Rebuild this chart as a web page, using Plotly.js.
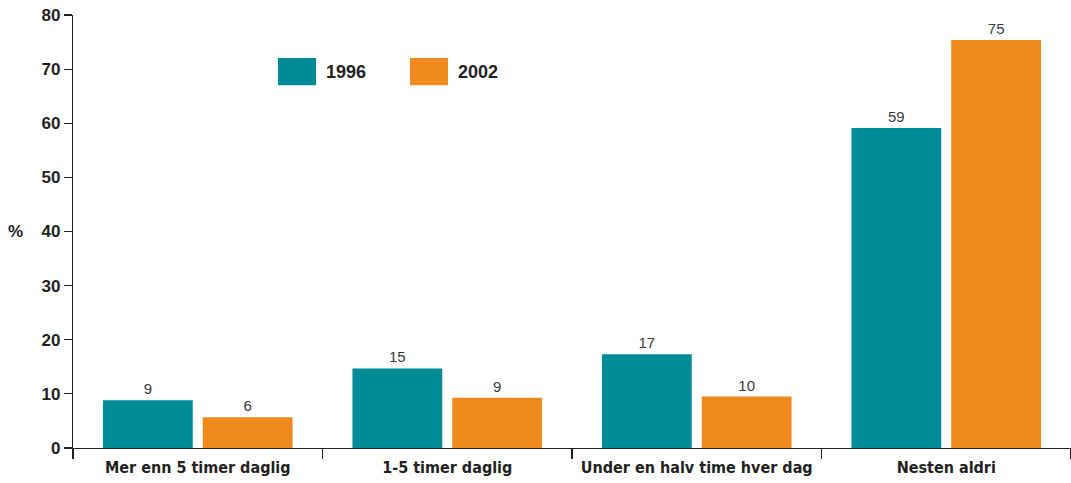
<!DOCTYPE html>
<html>
<head>
<meta charset="utf-8">
<script src="https://cdn.plot.ly/plotly-3.0.1.min.js"></script>
<style>html,body{margin:0;padding:0;background:#fff;}#chart{width:1071px;height:483px;}</style>
</head>
<body>
<div id="chart"></div>
<script>
const categories = ["Mer enn 5 timer daglig", "1-5 timer daglig", "Under en halv time hver dag", "Nesten aldri"];
const seriesNames = ["1996", "2002"];
const values1996 = [8.8, 14.7, 17.3, 59.1];
const values2002 = [5.7, 9.3, 9.5, 75.4];
const labels1996 = ["9", "15", "17", "59"];
const labels2002 = ["6", "9", "10", "75"];
const yTicks = [0, 10, 20, 30, 40, 50, 60, 70, 80];
const colors = ["#008B96", "#F08A1F"];

const labelFont = {family: "Liberation Sans, Arial, sans-serif", size: 15, color: "#3a3a3a"};

const traces = [
  {type: "bar", name: seriesNames[0], x: categories, y: values1996, text: labels1996,
   textposition: "outside", textfont: labelFont, cliponaxis: false,
   marker: {color: colors[0]}, hoverinfo: "x+y"},
  {type: "bar", name: seriesNames[1], x: categories, y: values2002, text: labels2002,
   textposition: "outside", textfont: labelFont, cliponaxis: false,
   marker: {color: colors[1]}, hoverinfo: "x+y"}
];

const legendX = [[0.2054, 0.2435], [0.3377, 0.3758]];
const shapes = seriesNames.map((n, i) => ({
  type: "rect", xref: "paper", yref: "paper",
  x0: legendX[i][0], x1: legendX[i][1], y0: 0.838, y1: 0.9007,
  fillcolor: colors[i], line: {width: 0}
}));
const annotations = seriesNames.map((n, i) => ({
  xref: "paper", yref: "paper", x: legendX[i][1] + 0.008, y: 0.8695,
  xanchor: "left", yanchor: "middle", text: n, showarrow: false,
  font: {family: "Liberation Sans, Arial, sans-serif", size: 18, color: "#231f20", weight: "bold"}
}));
annotations.push({
  xref: "paper", yref: "y", x: -0.058, y: 40, xanchor: "center", yanchor: "middle",
  text: "<b>%</b>", showarrow: false,
  font: {family: "Liberation Sans, Arial, sans-serif", size: 17, color: "#231f20"}
});

const layout = {
  width: 1071, height: 483,
  margin: {l: 73, r: 0, t: 15, b: 35, pad: 0},
  paper_bgcolor: "#ffffff", plot_bgcolor: "#ffffff",
  showlegend: false,
  barmode: "group", bargap: 0.2, bargroupgap: 0.1,
  xaxis: {
    type: "category", showgrid: false, zeroline: false,
    showline: true, linecolor: "#231f20", linewidth: 1.2,
    ticks: "outside", tickson: "boundaries", ticklen: 10, tickcolor: "#231f20", tickwidth: 1.2,
    tickangle: 0, ticklabelstandoff: 5,
    tickfont: {family: "DejaVu Sans Condensed, Liberation Sans Narrow, sans-serif", size: 16, color: "#231f20", weight: "bold"},
    fixedrange: true
  },
  yaxis: {
    range: [0, 80], tickvals: yTicks, ticktext: yTicks.map(String),
    showgrid: false, zeroline: false,
    showline: true, linecolor: "#231f20", linewidth: 1.2,
    ticks: "outside", ticklen: 8, tickcolor: "#231f20", tickwidth: 1.2,
    tickfont: {family: "Liberation Sans, Arial, sans-serif", size: 17, color: "#231f20", weight: "bold"},
    fixedrange: true
  },
  shapes: shapes,
  annotations: annotations
};

Plotly.newPlot("chart", traces, layout, {displayModeBar: false, staticPlot: true});
</script>
</body>
</html>
